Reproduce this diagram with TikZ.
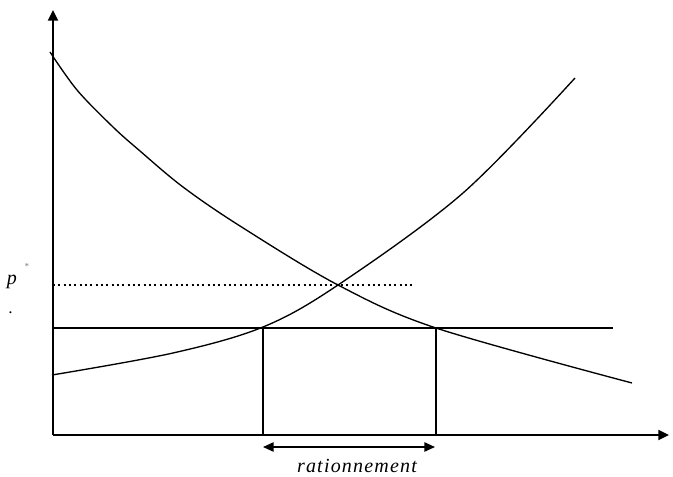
\documentclass[tikz,border=0pt]{standalone}
\usepackage{fontspec}
\setmainfont{Liberation Serif}
\usetikzlibrary{arrows.meta}
\begin{document}
\begin{tikzpicture}[x=0.75pt,y=-0.75pt,
  axis/.style={line width=1.4pt,-{Triangle[width=7.5pt,length=8pt]}},
  curve/.style={line width=1pt},
  guide/.style={line width=1.1pt},
  dots/.style={line width=1pt,dash pattern=on 1.5pt off 2.5pt},
  lbl/.style={font=\itshape\fontsize{12.5}{14}\selectfont,inner sep=0pt}]
\useasboundingbox (0,0) rectangle (673,477);
% key points
\coordinate (O) at (53,435);
\coordinate (ytop) at (53,10);
\coordinate (xend) at (669,435);
\coordinate (E) at (338,285);
\coordinate (A) at (263,328);
\coordinate (B) at (436,328);
% axes
\draw[axis] (O) -- (ytop);
\draw[axis] (O) -- (xend);
% price lines
\coordinate (pstarL) at (53,285);
\coordinate (pstarR) at (413,285);
\draw[dots] (pstarL) -- (pstarR);
\coordinate (pL) at (53,328);
\coordinate (pR) at (613,328);
\draw[guide] (pL) -- (pR);
% verticals
\coordinate (Ab) at (263,435);
\coordinate (Bb) at (436,435);
\draw[guide] (A) -- (Ab);
\draw[guide] (B) -- (Bb);
% demand
\draw[curve] plot[smooth,tension=0.55] coordinates {(50,52) (77,90) (113,127) (140,151) (183,187) (240,226) (338,285) (436,328) (632,383)};
% supply
\draw[curve] plot[smooth,tension=0.55] coordinates {(52,375) (173,353) (263,327) (338,285) (463,193) (575,78)};
% rationnement arrow
\coordinate (rL) at (263,447);
\coordinate (rR) at (435,447);
\draw[line width=1.2pt,{Triangle[width=7pt,length=8pt]}-{Triangle[width=7pt,length=8pt]}] (rL) -- (rR);
\node[lbl,font=\itshape\fontsize{15}{17}\selectfont\addfontfeature{LetterSpace=6}] (rat) at (357,466) {rationnement};
% p* label
\node[lbl,font=\itshape\fontsize{15}{17}\selectfont] (p) at (12,282) {p};
\node[inner sep=0pt,font=\fontsize{7}{7}\selectfont,text=gray] (star) at (27,266) {*};
\node[lbl] (dot) at (11,313) {.};
\end{tikzpicture}
\end{document}
